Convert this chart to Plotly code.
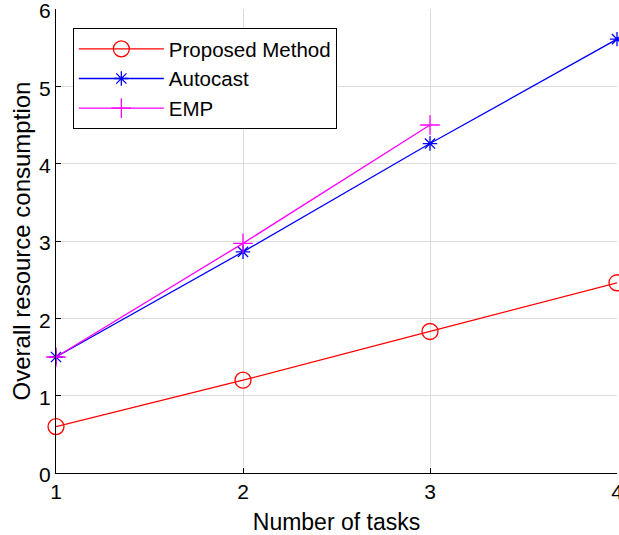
import plotly.graph_objects as go

tasks = [1, 2, 3, 4]
proposed = [0.60, 1.20, 1.83, 2.46]
autocast = [1.50, 2.86, 4.26, 5.61]
emp_tasks = [1, 2, 3]
emp = [1.50, 2.97, 4.50]

FONT = "Liberation Sans, Arial, Helvetica, sans-serif"

fig = go.Figure()
fig.add_trace(go.Scatter(
    x=tasks, y=proposed, mode="lines+markers", name="Proposed Method",
    line=dict(color="#ff0000", width=1.3),
    marker=dict(symbol="circle-open", size=16, color="#ff0000", line=dict(width=1.3)),
    cliponaxis=False))
fig.add_trace(go.Scatter(
    x=tasks, y=autocast, mode="lines+markers", name="Autocast",
    line=dict(color="#0000ff", width=1.3),
    marker=dict(symbol="asterisk-open", size=12, color="#0000ff", line=dict(width=1.3, color="#0000ff")),
    cliponaxis=False))
fig.add_trace(go.Scatter(
    x=emp_tasks, y=emp, mode="lines+markers", name="EMP",
    line=dict(color="#ff00ff", width=1.3),
    marker=dict(symbol="cross-thin-open", size=14, color="#ff00ff", line=dict(width=1.3, color="#ff00ff")),
    cliponaxis=False))

fig.update_layout(
    width=619, height=535,
    margin=dict(l=56, r=2, t=9, b=62),
    paper_bgcolor="white", plot_bgcolor="white",
    font=dict(family=FONT, size=21, color="black"),
    showlegend=True,
    legend=dict(x=0.030, y=0.959, xanchor="left", yanchor="top",
                bgcolor="white", bordercolor="black", borderwidth=1,
                font=dict(size=20.5), itemwidth=85, tracegroupgap=0),
    xaxis=dict(range=[1, 4], tickvals=[1, 2, 3, 4], showgrid=True, gridcolor="#dcdcdc",
               gridwidth=1, zeroline=False, showline=True, linecolor="black", linewidth=1,
               ticks="inside", ticklen=5, tickcolor="black", automargin=False,
               ticklabeloverflow="allow",
               title=dict(text="Number of tasks", font=dict(size=23)),
               tickfont=dict(size=21)),
    yaxis=dict(range=[0, 6], tickvals=[0, 1, 2, 3, 4, 5, 6], showgrid=True, gridcolor="#dcdcdc",
               gridwidth=1, zeroline=False, showline=True, linecolor="black", linewidth=1,
               ticks="inside", ticklen=5, tickcolor="black", automargin=False,
               ticklabeloverflow="allow", ticklabelshift=2,
               title=dict(text="Overall resource consumption", font=dict(size=24), standoff=1),
               tickfont=dict(size=21)),
)

fig.write_html("out.html", config={"displayModeBar": False},
               post_script="document.body.style.margin='0';")
